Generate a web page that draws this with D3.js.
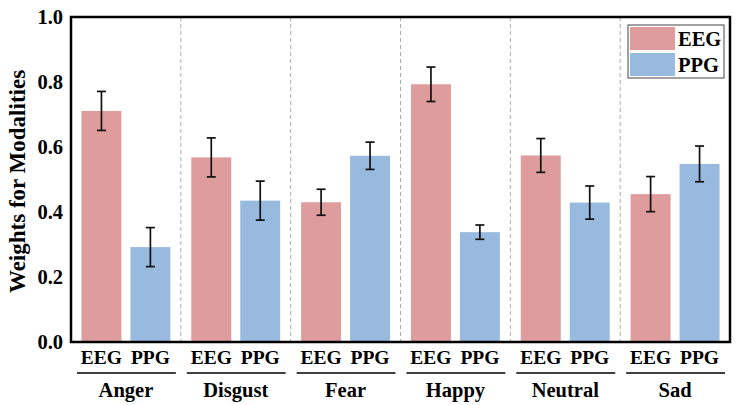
<!DOCTYPE html>
<html>
<head>
<meta charset="utf-8">
<script src="https://cdn.jsdelivr.net/npm/d3@7"></script>
<style>
  body { margin: 0; background: #fff; }
</style>
</head>
<body>
<div id="canvas"></div>
<script>
const emotions = ['Anger', 'Disgust', 'Fear', 'Happy', 'Neutral', 'Sad'];
const modalities = ['EEG', 'PPG'];
const eegValues = [0.711, 0.568, 0.430, 0.793, 0.574, 0.455];
const eegErrors = [0.060, 0.060, 0.040, 0.053, 0.052, 0.054];
const ppgValues = [0.292, 0.435, 0.573, 0.338, 0.429, 0.548];
const ppgErrors = [0.060, 0.060, 0.042, 0.022, 0.051, 0.055];
const yTicks = [0.0, 0.2, 0.4, 0.6, 0.8, 1.0];
const colors = { EEG: '#df9c9c', PPG: '#98badf' };

const w = 739;
const h = 405;
const mLeft = 71, mRight = 730, mTop = 17, mBottom = 342;
const serif = "'Liberation Serif', 'Times New Roman', monospace";

const data = [];
emotions.forEach((e, i) => {
  data.push({ emotion: e, modality: 'EEG', value: eegValues[i], err: eegErrors[i] });
  data.push({ emotion: e, modality: 'PPG', value: ppgValues[i], err: ppgErrors[i] });
});

const xGroup = d3.scaleBand().domain(emotions).range([mLeft, mRight]).padding(0);
const xInner = d3.scaleBand().domain(modalities).range([0, xGroup.bandwidth()])
  .paddingInner(0.184).paddingOuter(0.214);
const yScale = d3.scaleLinear().domain([0, 1]).range([mBottom, mTop]);

const svg = d3.select('#canvas').append('svg').attr('width', w).attr('height', h);

function label(sel, size) {
  return sel.style('font-family', serif)
    .style('font-weight', 'bold')
    .style('font-size', size + 'px')
    .style('fill', '#000');
}

// dashed separators
svg.selectAll('line.sep')
  .data(emotions.slice(1))
  .enter()
  .append('line')
  .attr('class', 'sep')
  .attr('x1', d => xGroup(d))
  .attr('x2', d => xGroup(d))
  .attr('y1', mTop)
  .attr('y2', mBottom)
  .attr('stroke', '#aaa')
  .attr('stroke-width', 1)
  .attr('stroke-dasharray', '4,3');

// bars
svg.selectAll('rect.bar')
  .data(data)
  .enter()
  .append('rect')
  .attr('class', 'bar')
  .attr('x', d => xGroup(d.emotion) + xInner(d.modality))
  .attr('y', d => yScale(d.value))
  .attr('width', xInner.bandwidth())
  .attr('height', d => mBottom - yScale(d.value))
  .attr('fill', d => colors[d.modality]);

// error bars
const cx = d => xGroup(d.emotion) + xInner(d.modality) + xInner.bandwidth() / 2;
const eb = svg.append('g').attr('stroke', '#111').attr('stroke-width', 1.7);
eb.selectAll('line.v').data(data).enter().append('line')
  .attr('x1', cx).attr('x2', cx)
  .attr('y1', d => yScale(d.value + d.err)).attr('y2', d => yScale(d.value - d.err));
eb.selectAll('line.t').data(data).enter().append('line')
  .attr('x1', d => cx(d) - 4.5).attr('x2', d => cx(d) + 4.5)
  .attr('y1', d => yScale(d.value + d.err)).attr('y2', d => yScale(d.value + d.err));
eb.selectAll('line.b').data(data).enter().append('line')
  .attr('x1', d => cx(d) - 4.5).attr('x2', d => cx(d) + 4.5)
  .attr('y1', d => yScale(d.value - d.err)).attr('y2', d => yScale(d.value - d.err));

// frame
svg.append('rect')
  .attr('x', mLeft).attr('y', mTop)
  .attr('width', mRight - mLeft).attr('height', mBottom - mTop)
  .attr('fill', 'none').attr('stroke', '#000').attr('stroke-width', 2.5);

// y axis
const yAxis = d3.axisLeft(yScale).tickValues(yTicks).tickFormat(d3.format('.1f')).tickSize(0).tickPadding(8);
svg.append('g')
  .attr('id', 'y-axis')
  .attr('transform', 'translate(' + mLeft + ', 0)')
  .call(yAxis)
  .call(g => g.select('.domain').remove())
  .selectAll('text')
  .call(label, 20.5);

svg.append('text')
  .attr('transform', 'translate(25, ' + ((mTop + mBottom) / 2 + 2) + ') rotate(-90)')
  .attr('text-anchor', 'middle')
  .call(label, 23)
  .text('Weights for Modalities');

// x labels
svg.selectAll('text.mod')
  .data(data)
  .enter()
  .append('text')
  .attr('class', 'mod')
  .attr('x', cx)
  .attr('y', 364)
  .attr('text-anchor', 'middle')
  .call(label, 19.5)
  .text(d => d.modality);

svg.selectAll('line.under')
  .data(emotions)
  .enter()
  .append('line')
  .attr('x1', d => xGroup(d) + 6)
  .attr('x2', d => xGroup(d) + xGroup.bandwidth() - 5)
  .attr('y1', 373).attr('y2', 373)
  .attr('stroke', '#000').attr('stroke-width', 1.6);

svg.selectAll('text.emo')
  .data(emotions)
  .enter()
  .append('text')
  .attr('class', 'emo')
  .attr('x', d => xGroup(d) + xGroup.bandwidth() / 2)
  .attr('y', 397)
  .attr('text-anchor', 'middle')
  .call(label, 20.5)
  .text(d => d);

// legend
const legend = svg.append('g').attr('transform', 'translate(628, 25)');
legend.append('rect').attr('width', 96).attr('height', 53)
  .attr('fill', '#fff').attr('stroke', '#444').attr('stroke-width', 1);
modalities.forEach((m, i) => {
  legend.append('rect').attr('x', 2).attr('y', 2 + i * 26)
    .attr('width', 45).attr('height', 23).attr('fill', colors[m]);
  legend.append('text').attr('x', 50).attr('y', 21 + i * 26)
    .call(label, 20.5).text(m);
});
</script>
</body>
</html>
